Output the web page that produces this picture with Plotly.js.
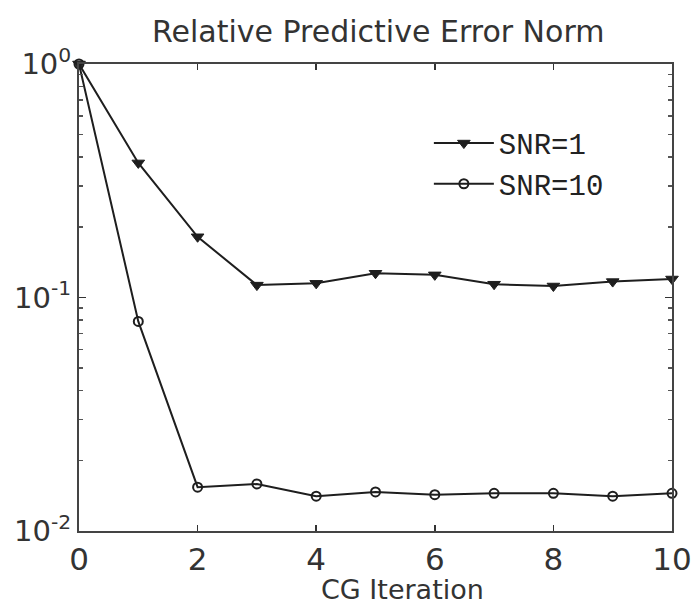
<!DOCTYPE html>
<html>
<head>
<meta charset="utf-8">
<script src="https://cdn.plot.ly/plotly-3.0.1.min.js"></script>
<style>html,body{margin:0;padding:0;background:#fff;}#chart{width:694px;height:610px;}</style>
</head>
<body>
<div id="chart"></div>
<script>
const iterations = [0, 1, 2, 3, 4, 5, 6, 7, 8, 9, 10];
const snr1 = [1.0, 0.377, 0.182, 0.113, 0.115, 0.127, 0.125, 0.114, 0.112, 0.117, 0.120];
const snr10 = [1.0, 0.079, 0.0154, 0.0159, 0.0141, 0.0147, 0.0143, 0.0145, 0.0145, 0.0141, 0.0145];
const seriesNames = ["SNR=1", "SNR=10"];
const xTicks = [0, 2, 4, 6, 8, 10];
const yTicks = [0.01, 0.1, 1];
const yTickText = ["10<sup>-2</sup>", "10<sup>-1</sup>", "10<sup>0</sup>"];

const ink = '#1e1e1e';
const traces = [
  {
    x: iterations, y: snr1, name: seriesNames[0], type: 'scatter', mode: 'lines+markers',
    line: {color: ink, width: 2},
    marker: {symbol: 'triangle-down', size: 11, color: ink, line: {color: ink, width: 1}},
    cliponaxis: false
  },
  {
    x: iterations, y: snr10, name: seriesNames[1], type: 'scatter', mode: 'lines+markers',
    line: {color: ink, width: 2},
    marker: {symbol: 'circle-open', size: 9, color: ink, line: {color: ink, width: 2}},
    cliponaxis: false
  }
];

const layout = {
  width: 694, height: 610,
  margin: {l: 79, r: 22, t: 64, b: 79},
  paper_bgcolor: '#fff', plot_bgcolor: '#fff',
  font: {family: 'DejaVu Sans, sans-serif', color: '#222'},
  title: {text: 'Relative Predictive Error Norm', x: 0.545, xanchor: 'center', y: 0.948, yanchor: 'middle',
          font: {size: 30, color: '#333'}},
  xaxis: {
    range: [0, 10], tickvals: xTicks, ticktext: xTicks.map(String),
    ticks: 'inside', ticklen: 6, tickwidth: 1.5, tickcolor: '#333',
    showline: true, linecolor: '#444', linewidth: 2, mirror: 'ticks',
    showgrid: false, zeroline: false,
    tickfont: {size: 31, color: '#333'}
  },
  yaxis: {
    type: 'log', range: [-2, 0], tickvals: yTicks, ticktext: yTickText,
    ticks: 'inside', ticklen: 7, tickwidth: 1.5, tickcolor: '#333',
    minor: {ticks: 'inside', ticklen: 4, tickcolor: '#555', dtick: 'D1', showgrid: false},
    showline: true, linecolor: '#444', linewidth: 2, mirror: 'ticks',
    showgrid: false, zeroline: false,
    tickfont: {size: 29, color: '#333'}
  },
  annotations: [{
    text: 'CG Iteration', xref: 'paper', yref: 'paper', x: 0.545, y: -0.088,
    xanchor: 'center', yanchor: 'top', showarrow: false,
    font: {size: 27, color: '#333'}
  }],
  showlegend: true,
  legend: {
    x: 0.59, y: 0.885, xanchor: 'left', yanchor: 'top',
    bgcolor: 'rgba(0,0,0,0)', borderwidth: 0,
    font: {family: 'Liberation Mono, Courier New, monospace', size: 29, color: '#222'},
    itemwidth: 60
  }
};

Plotly.newPlot('chart', traces, layout, {displayModeBar: false, staticPlot: true});
</script>
</body>
</html>
